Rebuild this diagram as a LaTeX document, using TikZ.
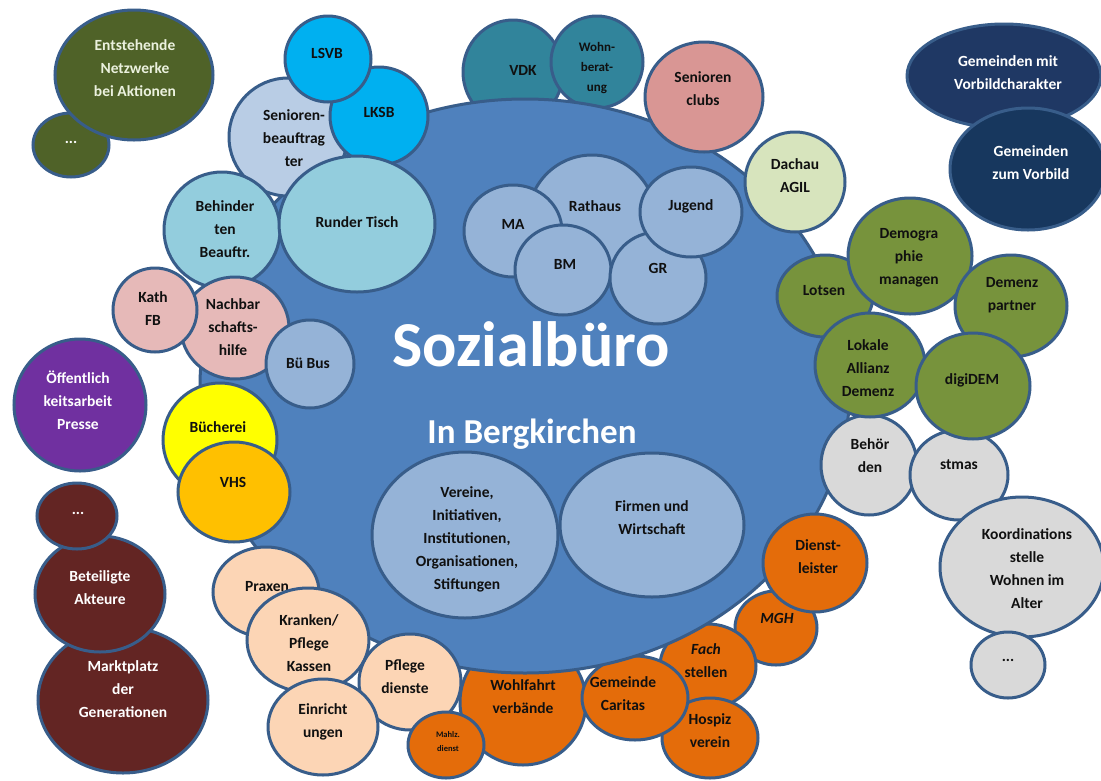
\documentclass[tikz,border=0pt]{standalone}
\usepackage{fontspec}
\setmainfont{Carlito}
\usetikzlibrary{shapes.geometric}

\definecolor{cEdge}{HTML}{385D8A}
\definecolor{cMain}{HTML}{4F81BD}
\definecolor{cInner}{HTML}{95B3D7}
\definecolor{cOlive}{HTML}{4F6228}
\definecolor{cCream}{HTML}{EBF1DE}
\definecolor{cCyan}{HTML}{00B0F0}
\definecolor{cSenB}{HTML}{B9CDE5}
\definecolor{cTurq}{HTML}{93CDDD}
\definecolor{cTeal}{HTML}{31849B}
\definecolor{cSalmon}{HTML}{D99694}
\definecolor{cLGreen}{HTML}{D7E4BD}
\definecolor{cNavyA}{HTML}{1F3864}
\definecolor{cNavyB}{HTML}{17375E}
\definecolor{cGreen}{HTML}{77933C}
\definecolor{cGray}{HTML}{D9D9D9}
\definecolor{cOrange}{HTML}{E46C0A}
\definecolor{cPeach}{HTML}{FCD5B5}
\definecolor{cPink}{HTML}{E6B9B8}
\definecolor{cPurple}{HTML}{7030A0}
\definecolor{cYellow}{HTML}{FFFF00}
\definecolor{cGold}{HTML}{FFC000}
\definecolor{cMaroon}{HTML}{632523}
\definecolor{cText}{HTML}{101010}

\begin{document}
\begin{tikzpicture}[x=1pt,y=-1pt,
  bub/.style={ellipse, draw=cEdge, line width=3pt, inner sep=0pt, outer sep=0pt},
  sz/.style 2 args={minimum width={2*#1pt}, minimum height={2*#2pt}},
  lbl/.style={font=\bfseries\fontsize{15.5}{23}\selectfont, align=center, text=cText, inner sep=0pt},
  lblw/.style={lbl, text=white},
  lbls/.style={lbl, font=\bfseries\fontsize{13}{20}\selectfont},
  lblxs/.style={lbl, font=\bfseries\fontsize{8.5}{14}\selectfont},
  title/.style={font=\bfseries\fontsize{64}{70}\selectfont, text=white, inner sep=0pt},
  subtitle/.style={font=\bfseries\fontsize{35}{40}\selectfont, text=white, inner sep=0pt}]

\useasboundingbox[fill=white] (0,0) rectangle (1101,780);

% networks (top left)
\node[bub, sz={38}{32}, fill=cOlive] (dotsA) at (71,145) {};
\node[lblw] (dotsA-t) at (71,142) {...};
\node[bub, sz={79}{65}, fill=cOlive] (netz) at (134,75) {};
\node[lblw, text=cCream] (netz-t) at (135,68) {Entstehende\\Netzwerke\\bei Aktionen};

% partners behind the office (top)
\node[bub, sz={50}{52}, fill=cTeal] (vdk) at (513,72) {};
\node[lbl] (vdk-t) at (523,70) {VDK};
\node[bub, sz={46}{46}, fill=cTeal] (wohn) at (597,62) {};
\node[lbls] (wohn-t) at (597,68) {Wohn-\\berat-\\ung};

% welfare partners behind the office (bottom)
\node[bub, sz={41}{37}, fill=cOrange] (mgh) at (776,628) {};
\node[lbl] (mgh-t) at (777,618) {\itshape MGH};
\node[bub, sz={48}{42}, fill=cOrange] (fach) at (708,666) {};
\node[lbl] (fach-t) at (706,661) {\itshape Fach\\stellen};
\node[bub, sz={48}{40}, fill=cOrange] (hospiz) at (710,738) {};
\node[lbl] (hospiz-t) at (710,731) {Hospiz\\verein};
\node[bub, sz={63}{63}, fill=cOrange] (wohlf) at (523,702) {};
\node[lbl] (wohlf-t) at (523,697) {Wohlfahrt\\verbände};
\node[bub, sz={53}{42}, fill=cOrange] (caritas) at (635,698) {};
\node[lbl] (caritas-t) at (623,694) {Gemeinde\\Caritas};

% the office itself
\node[bub, sz={325}{287}, fill=cMain] (main) at (525,386) {};
\node[title, anchor=base] (main-t) at (531,366) {Sozialbüro};
\node[subtitle, anchor=base] (main-s) at (532,443) {In Bergkirchen};

% inner circles
\node[bub, sz={64}{64}, fill=cInner] (rathaus) at (592,219) {};
\node[lbl] (rathaus-t) at (595,206) {Rathaus};
\node[bub, sz={49}{46}, fill=cInner] (ma) at (513,231) {};
\node[lbl] (ma-t) at (513,224) {MA};
\node[bub, sz={48}{45}, fill=cInner] (bm) at (563,270) {};
\node[lbl] (bm-t) at (565,264) {BM};
\node[bub, sz={48}{46}, fill=cInner] (gr) at (658,278) {};
\node[lbl] (gr-t) at (658,268) {GR};
\node[bub, sz={51}{45}, fill=cInner] (jugend) at (691,212) {};
\node[lbl] (jugend-t) at (691,206) {Jugend};
\node[bub, sz={93}{83}, fill=cInner] (vereine) at (465,535) {};
\node[lbl] (vereine-t) at (467,539) {Vereine,\\Initiativen,\\Institutionen,\\Organisationen,\\Stiftungen};
\node[bub, sz={92}{72}, fill=cInner] (firmen) at (652,525) {};
\node[lbl] (firmen-t) at (652,518) {Firmen und\\Wirtschaft};

% left cluster
\node[bub, sz={59}{59}, fill=cSenB] (senb) at (288,137) {};
\node[lbl] (senb-t) at (294,138) {Senioren-\\beauftrag\\ter};
\node[bub, sz={49}{49}, fill=cCyan] (lksb) at (379,116) {};
\node[lbl] (lksb-t) at (379,112) {LKSB};
\node[bub, sz={43}{43}, fill=cCyan] (lsvb) at (328,59) {};
\node[lbl] (lsvb-t) at (327,53) {LSVB};
\node[bub, sz={58}{58}, fill=cTurq] (behind) at (222,230) {};
\node[lbl] (behind-t) at (225,229) {Behinder\\ten\\Beauftr.};
\node[bub, sz={78}{68}, fill=cTurq] (runder) at (357,224) {};
\node[lbl] (runder-t) at (357,222) {Runder Tisch};

\node[bub, sz={54}{51}, fill=cPink] (nachbar) at (235,328) {};
\node[lbl] (nachbar-t) at (233,327) {Nachbar\\schafts-\\hilfe};
\node[bub, sz={42}{42}, fill=cPink] (kath) at (155,310) {};
\node[lbl] (kath-t) at (153,309) {Kath\\FB};
\node[bub, sz={44}{44}, fill=cInner] (bubus) at (310,364) {};
\node[lbl] (bubus-t) at (308,363) {Bü Bus};

\node[bub, sz={66}{66}, fill=cPurple] (oeff) at (80,405) {};
\node[lblw] (oeff-t) at (78,400) {Öffentlich\\keitsarbeit\\Presse};

\node[bub, sz={57}{57}, fill=cYellow] (buech) at (220,440) {};
\node[lbl] (buech-t) at (218,427) {Bücherei};
\node[bub, sz={56}{50}, fill=cGold] (vhs) at (234,492) {};
\node[lbl] (vhs-t) at (233,482) {VHS};

% participants (bottom left)
\node[bub, sz={85}{73}, fill=cMaroon] (markt) at (123,700) {};
\node[lblw] (markt-t) at (123,689) {Marktplatz\\der\\Generationen};
\node[bub, sz={65}{58}, fill=cMaroon] (beteil) at (100,594) {};
\node[lblw] (beteil-t) at (100,588) {Beteiligte\\Akteure};
\node[bub, sz={40}{33}, fill=cMaroon] (dotsB) at (77,516) {};
\node[lblw] (dotsB-t) at (78,513) {...};

% care (bottom)
\node[bub, sz={51}{48}, fill=cPeach] (pflege) at (410,682) {};
\node[lbl] (pflege-t) at (405,677) {Pflege\\dienste};
\node[bub, sz={53}{45}, fill=cPeach] (praxen) at (266,592) {};
\node[lbl] (praxen-t) at (267,587) {Praxen};
\node[bub, sz={61}{52}, fill=cPeach] (kranken) at (308,640) {};
\node[lbl] (kranken-t) at (309,643) {Kranken/\\Pflege\\Kassen};
\node[bub, sz={55}{48}, fill=cPeach] (einr) at (323,727) {};
\node[lbl] (einr-t) at (323,722) {Einricht\\ungen};
\node[bub, sz={38}{33}, fill=cOrange] (mahlz) at (446,745) {};
\node[lblxs] (mahlz-t) at (448,742) {Mahlz.\\dienst};

% top right
\node[bub, sz={59}{55}, fill=cSalmon] (sclubs) at (704,97) {};
\node[lbl] (sclubs-t) at (703,89) {Senioren\\clubs};
\node[bub, sz={50}{50}, fill=cLGreen] (dachau) at (795,182) {};
\node[lbl] (dachau-t) at (795,176) {Dachau\\AGIL};
\node[bub, sz={97}{52}, fill=cNavyA] (gmit) at (1004,76) {};
\node[lblw] (gmit-t) at (1008,73) {Gemeinden mit\\Vorbildcharakter};
\node[bub, sz={78}{61}, fill=cNavyB] (gzum) at (1028,169) {};
\node[lblw] (gzum-t) at (1031,163) {Gemeinden\\zum Vorbild};

% dementia network (right)
\node[bub, sz={48}{41}, fill=cGreen] (lotsen) at (825,296) {};
\node[lbl] (lotsen-t) at (824,291) {Lotsen};
\node[bub, sz={62}{58}, fill=cGreen] (demo) at (910,256) {};
\node[lbl] (demo-t) at (909,258) {Demogra\\phie\\managen};
\node[bub, sz={56}{51}, fill=cGreen] (dpart) at (1011,306) {};
\node[lbl] (dpart-t) at (1012,295) {Demenz\\partner};
\node[bub, sz={48}{50}, fill=cGray] (behoer) at (869,465) {};
\node[lbl] (behoer-t) at (870,456) {Behör\\den};
\node[bub, sz={49}{45}, fill=cGray] (stmas) at (959,475) {};
\node[lbl] (stmas-t) at (959,465) {stmas};
\node[bub, sz={55}{52}, fill=cGreen] (lokal) at (870,365) {};
\node[lbl] (lokal-t) at (868,368) {Lokale\\Allianz\\Demenz};
\node[bub, sz={57}{53}, fill=cGreen] (digi) at (973,386) {};
\node[lbl] (digi-t) at (972,380) {digiDEM};

% services and housing (bottom right)
\node[bub, sz={52}{49}, fill=cOrange] (dienst) at (815,563) {};
\node[lbl] (dienst-t) at (818,557) {Dienst-\\leister};
\node[bub, sz={82}{70}, fill=cGray] (koord) at (1022,567) {};
\node[lbl] (koord-t) at (1027,569) {Koordinations\\stelle\\Wohnen im\\Alter};
\node[bub, sz={37}{33}, fill=cGray] (dotsC) at (1008,665) {};
\node[lbl] (dotsC-t) at (1008,660) {...};

\end{tikzpicture}
\end{document}
